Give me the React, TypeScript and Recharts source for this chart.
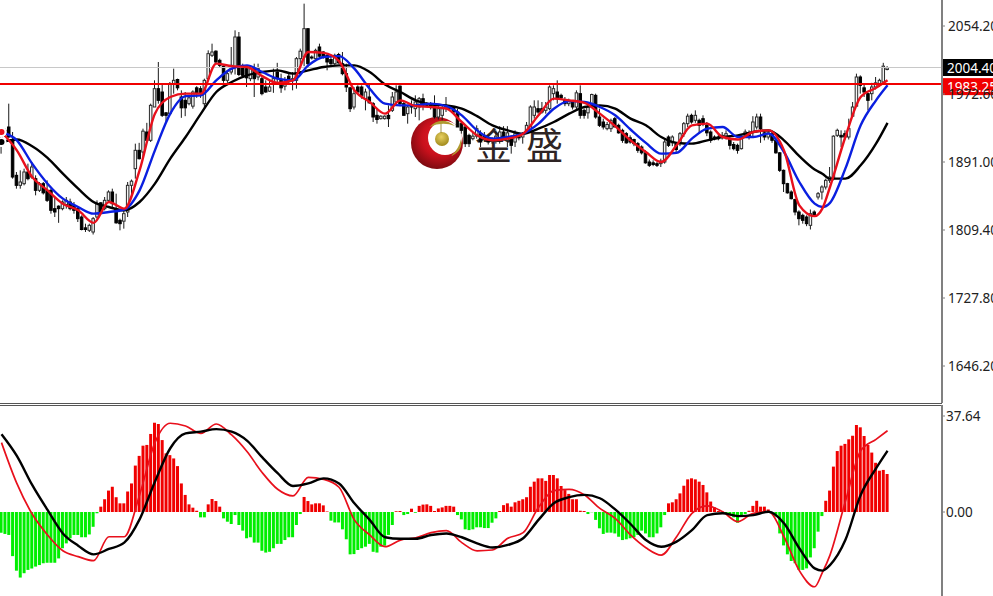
import { Bar, Cell, ComposedChart, Line, ReferenceLine, XAxis, YAxis } from "recharts";

const highs = [
  1927, 1931, 1961, 1927, 1879, 1881, 1883, 1889, 1891, 1875, 1867, 1867, 1869, 1859, 1849, 1839, 1845, 1849, 1847, 1843,
  1837, 1827, 1817, 1817, 1825, 1845, 1843, 1849, 1857, 1859, 1853, 1823, 1833, 1867, 1870, 1913, 1914, 1931, 1938, 1961,
  1989, 2011, 1985, 1951, 1987, 2003, 1991, 1977, 1975, 1971, 1977, 1982, 1982, 1991, 2025, 2033, 2025, 2015, 2007, 2001,
  2029, 2049, 2047, 2009, 2007, 2007, 2009, 2009, 1993, 1989, 1989, 2003, 2010, 1997, 1993, 1997, 1999, 2017, 2027, 2081,
  2051, 2019, 2027, 2033, 2024, 2021, 2017, 2021, 2022, 2023, 2009, 1981, 1981, 1983, 1983, 1979, 1985, 1963, 1955, 1947,
  1947, 1959, 1975, 1983, 1983, 1963, 1959, 1965, 1971, 1969, 1973, 1963, 1963, 1971, 1959, 1959, 1969, 1959, 1958, 1955,
  1939, 1935, 1925, 1927, 1935, 1929, 1927, 1923, 1921, 1929, 1934, 1934, 1934, 1923, 1929, 1925, 1927, 1939, 1959, 1965,
  1965, 1963, 1963, 1983, 1983, 1989, 1973, 1969, 1967, 1965, 1977, 1983, 1955, 1961, 1973, 1973, 1955, 1943, 1939, 1943,
  1945, 1937, 1931, 1927, 1923, 1919, 1915, 1911, 1905, 1894, 1893, 1891, 1895, 1919, 1923, 1923, 1915, 1927, 1939, 1949,
  1949, 1953, 1943, 1947, 1939, 1929, 1923, 1925, 1927, 1929, 1921, 1915, 1913, 1923, 1930, 1929, 1946, 1949, 1949, 1929,
  1929, 1927, 1918, 1903, 1882, 1866, 1857, 1847, 1833, 1829, 1827, 1834, 1833, 1855, 1863, 1871, 1885, 1923, 1931, 1929,
  1929, 1943, 1963, 1997, 1995, 1985, 1974, 1986, 1993, 1991, 2010, 2006,
];
const lows = [
  1901, 1921, 1920, 1871, 1859, 1859, 1863, 1869, 1871, 1851, 1855, 1852, 1843, 1829, 1825, 1818, 1833, 1835, 1833, 1829,
  1819, 1809, 1807, 1807, 1804, 1823, 1829, 1833, 1843, 1837, 1817, 1809, 1811, 1825, 1849, 1871, 1894, 1897, 1915, 1915,
  1957, 1961, 1945, 1939, 1948, 1973, 1977, 1944, 1946, 1959, 1955, 1968, 1968, 1956, 1988, 2017, 2009, 2005, 1986, 1986,
  1996, 1996, 1994, 1992, 1981, 1988, 1969, 1989, 1971, 1974, 1975, 1974, 1985, 1974, 1977, 1985, 1977, 1979, 2007, 2006,
  2005, 2014, 2014, 2016, 2015, 2001, 2007, 2007, 2009, 1995, 1975, 1951, 1954, 1973, 1967, 1953, 1961, 1939, 1937, 1942,
  1942, 1933, 1951, 1961, 1958, 1947, 1937, 1949, 1945, 1941, 1953, 1958, 1954, 1943, 1942, 1941, 1951, 1954, 1949, 1933,
  1925, 1909, 1909, 1917, 1919, 1909, 1917, 1912, 1913, 1913, 1913, 1917, 1909, 1901, 1909, 1917, 1913, 1927, 1926, 1943,
  1949, 1949, 1949, 1953, 1965, 1961, 1966, 1958, 1958, 1954, 1954, 1943, 1943, 1943, 1957, 1943, 1933, 1930, 1929, 1927,
  1933, 1925, 1914, 1913, 1913, 1910, 1902, 1900, 1889, 1885, 1886, 1885, 1885, 1889, 1909, 1910, 1902, 1910, 1921, 1933,
  1937, 1938, 1926, 1934, 1922, 1914, 1917, 1917, 1918, 1918, 1906, 1905, 1901, 1906, 1921, 1918, 1921, 1930, 1914, 1917,
  1918, 1914, 1901, 1879, 1855, 1853, 1846, 1827, 1815, 1817, 1814, 1810, 1826, 1846, 1846, 1858, 1866, 1869, 1921, 1909,
  1918, 1918, 1945, 1957, 1973, 1969, 1953, 1965, 1978, 1981, 1985, 2001,
];
const opens = [
  1927, 1923, 1933, 1917, 1875, 1863, 1865, 1879, 1873, 1871, 1857, 1865, 1857, 1857, 1835, 1838, 1835, 1840, 1843, 1839,
  1835, 1825, 1812, 1809, 1807, 1825, 1842, 1835, 1845, 1855, 1835, 1821, 1820, 1831, 1863, 1883, 1905, 1903, 1927, 1917,
  1957, 1979, 1975, 1950, 1949, 1985, 1990, 1969, 1965, 1961, 1958, 1980, 1979, 1961, 1991, 2019, 2024, 2013, 2006, 1989,
  1999, 2005, 2041, 2005, 2003, 1991, 2003, 1993, 1991, 1981, 1976, 1987, 1999, 1989, 1982, 1994, 1989, 1989, 2015, 2017,
  2051, 2017, 2015, 2029, 2023, 2019, 2014, 2009, 2020, 2009, 1997, 1980, 1957, 1981, 1981, 1967, 1969, 1961, 1947, 1943,
  1943, 1947, 1953, 1963, 1982, 1961, 1949, 1959, 1955, 1957, 1967, 1961, 1961, 1957, 1945, 1947, 1956, 1957, 1957, 1951,
  1937, 1933, 1923, 1919, 1922, 1925, 1923, 1919, 1916, 1916, 1917, 1927, 1917, 1919, 1915, 1923, 1921, 1929, 1929, 1947,
  1955, 1955, 1953, 1955, 1973, 1975, 1971, 1966, 1961, 1963, 1957, 1973, 1953, 1950, 1959, 1971, 1945, 1939, 1931, 1931,
  1943, 1935, 1929, 1925, 1920, 1918, 1913, 1909, 1902, 1891, 1890, 1889, 1889, 1891, 1921, 1914, 1913, 1913, 1925, 1937,
  1947, 1941, 1941, 1943, 1935, 1927, 1921, 1921, 1921, 1921, 1919, 1912, 1911, 1907, 1923, 1926, 1927, 1933, 1945, 1926,
  1921, 1925, 1917, 1902, 1881, 1865, 1855, 1846, 1831, 1827, 1825, 1815, 1831, 1849, 1855, 1861, 1869, 1871, 1923, 1923,
  1925, 1921, 1946, 1958, 1993, 1980, 1973, 1973, 1981, 1983, 1987, 2002,
];
const closes = [
  1913, 1929, 1921, 1873, 1863, 1867, 1879, 1871, 1885, 1857, 1865, 1854, 1845, 1833, 1831, 1835, 1843, 1845, 1835, 1833,
  1823, 1810, 1810, 1815, 1823, 1841, 1831, 1845, 1855, 1841, 1818, 1817, 1829, 1863, 1868, 1905, 1895, 1928, 1917, 1959,
  1979, 1965, 1947, 1947, 1985, 1989, 1980, 1956, 1956, 1968, 1975, 1973, 1973, 1989, 2021, 2023, 2011, 2007, 1989, 1997,
  2007, 2041, 1996, 1995, 1992, 2003, 1991, 2003, 1973, 1975, 1981, 1991, 1991, 1980, 1987, 1989, 1991, 2015, 2024, 2051,
  2009, 2016, 2025, 2018, 2017, 2011, 2009, 2019, 2010, 1997, 1981, 1955, 1973, 1975, 1971, 1975, 1962, 1945, 1942, 1946,
  1946, 1943, 1969, 1975, 1961, 1947, 1957, 1957, 1963, 1967, 1959, 1959, 1957, 1945, 1955, 1955, 1958, 1955, 1951, 1933,
  1929, 1913, 1913, 1922, 1931, 1915, 1918, 1915, 1919, 1922, 1927, 1921, 1926, 1911, 1925, 1920, 1924, 1935, 1957, 1957,
  1951, 1951, 1957, 1981, 1979, 1967, 1968, 1961, 1965, 1957, 1974, 1947, 1947, 1957, 1972, 1945, 1935, 1933, 1936, 1941,
  1933, 1926, 1917, 1914, 1915, 1913, 1905, 1902, 1890, 1887, 1888, 1887, 1892, 1915, 1911, 1921, 1906, 1925, 1937, 1946,
  1939, 1947, 1935, 1937, 1926, 1917, 1919, 1919, 1923, 1925, 1911, 1907, 1905, 1922, 1927, 1922, 1939, 1945, 1931, 1921,
  1926, 1917, 1902, 1881, 1865, 1854, 1847, 1831, 1823, 1821, 1817, 1829, 1828, 1853, 1861, 1869, 1873, 1922, 1929, 1921,
  1921, 1931, 1957, 1993, 1983, 1975, 1965, 1981, 1986, 1989, 2006, 2004,
];

// moving averages and MACD lines
const lineBars = [
  0, 4, 8, 12, 16, 20, 24, 28, 32, 36, 40, 44, 48, 52, 56, 60, 64, 68, 72, 76, 80, 84, 88, 92, 96, 100, 104, 108, 112,
  116, 120, 124, 128, 132, 136, 140, 144, 148, 152, 156, 160, 164, 168, 172, 176, 180, 184, 188, 192, 196, 200, 204,
  208, 212, 214, 216, 220, 224, 228, 231,
];
const fastMa = [
  1927, 1905, 1873, 1857, 1841, 1833, 1818, 1843, 1835, 1881, 1949, 1969, 1973, 1973, 2009, 2006, 2005, 1994, 1986, 1989,
  2023, 2022, 2012, 1977, 1963, 1949, 1965, 1958, 1957, 1955, 1939, 1923, 1917, 1919, 1925, 1947, 1967, 1965, 1962, 1949,
  1934, 1917, 1903, 1891, 1911, 1935, 1937, 1921, 1918, 1927, 1929, 1905, 1839, 1826, 1835, 1861, 1921, 1969, 1980, 1989,
];
const midMa = [
  1927, 1917, 1889, 1865, 1847, 1837, 1829, 1831, 1834, 1857, 1905, 1949, 1970, 1971, 1989, 2003, 2007, 1999, 1991, 1989,
  2007, 2017, 2018, 2003, 1979, 1961, 1959, 1959, 1961, 1958, 1947, 1929, 1919, 1921, 1925, 1937, 1955, 1964, 1963, 1957,
  1947, 1930, 1914, 1901, 1902, 1919, 1931, 1933, 1921, 1921, 1925, 1903, 1867, 1841, 1837, 1842, 1883, 1935, 1965, 1983,
];
const slowMa = [
  1915, 1918, 1910, 1896, 1877, 1859, 1843, 1837, 1833, 1843, 1865, 1895, 1921, 1949, 1975, 1987, 1995, 1999, 2001, 1997,
  2001, 2005, 2007, 2007, 1999, 1984, 1975, 1965, 1960, 1959, 1955, 1946, 1935, 1929, 1925, 1931, 1939, 1949, 1957, 1959,
  1955, 1943, 1935, 1921, 1914, 1913, 1917, 1921, 1923, 1927, 1929, 1917, 1898, 1882, 1877, 1871, 1871, 1887, 1913, 1938,
];
const macdFast = [
  27.2, 11.2, -0.8, -9.0, -15.2, -17.5, -19.1, -9.7, -9.7, 6.7, 27.2, 34.8, 33.7, 30.8, 34.5, 30.2, 23.7, 15.4, 8.9, 6.3,
  13.6, 12.8, 9.7, -3.1, -9.0, -13.6, -11.0, -10.1, -8.1, -7.3, -12.0, -15.2, -14.9, -10.3, -8.1, 1.8, 8.4, 8.9, 6.7, 1.4,
  -2.5, -9.0, -14.0, -16.9, -9.7, -0.5, 2.4, 0.1, -3.8, -0.5, 0.1, -9.7, -23.0, -29.3, -23.8, -16.9, 4.1, 24.0, 28.5, 31.9,
];
const macdSlow = [
  30.5, 22.0, 10.6, 0.8, -8.4, -13.2, -16.6, -14.5, -12.0, -2.9, 11.9, 25.0, 30.8, 31.5, 32.5, 31.5, 28.0, 21.4, 15.2, 10.2,
  11.2, 13.2, 11.2, 3.4, -3.1, -9.9, -10.5, -10.5, -9.0, -8.4, -9.9, -12.3, -13.9, -12.9, -10.3, -3.1, 3.4, 5.8, 6.7, 5.4,
  1.0, -4.7, -11.0, -13.6, -11.6, -7.1, -1.2, -0.5, -1.6, -1.2, 0.1, -4.4, -14.2, -22.1, -23.0, -20.8, -11.0, 6.7, 17.1, 24.0,
];
const histogram = [
  -8.1, -8.6, -9.0, -17.3, -23.0, -25.7, -24.0, -22.7, -22.1, -21.4, -20.8, -20.1, -19.9, -19.9, -19.9, -18.2, -14.2,
  -12.3, -10.3, -9.0, -9.0, -9.9, -9.9, -8.8, -5.8, -0.5, 2.1, 5.0, 8.4, 9.9, 5.8, 3.4, 3.4, 8.0, 11.2, 18.2, 22.0, 26.0,
  26.3, 30.6, 35.0, 34.5, 28.2, 23.0, 22.3, 21.0, 18.0, 11.2, 6.7, 3.0, 1.7, 0.5, -2.1, -2.1, 3.0, 5.1, 4.3, 2.1, -2.5,
  -3.8, -4.7, -1.2, -5.1, -7.3, -10.3, -9.9, -12.0, -12.0, -15.2, -15.9, -15.6, -14.2, -12.5, -12.5, -11.0, -9.9, -9.9,
  -5.1, -0.8, 5.9, 4.3, 3.0, 3.4, 3.4, 2.6, 0.2, -3.4, -4.1, -4.1, -6.8, -10.7, -16.6, -16.5, -14.9, -14.2, -13.6, -12.5,
  -15.6, -15.9, -13.6, -13.2, -9.0, -5.1, 0.3, 0.4, -1.2, -0.8, 1.3, -0.3, 2.4, 2.9, 3.0, 2.4, 0.4, 1.4, 1.8, 2.4, 2.4,
  2.1, -1.2, -2.9, -6.8, -7.1, -6.8, -6.0, -6.0, -6.3, -6.3, -4.2, -2.5, 0.4, 2.7, 3.4, 2.1, 3.8, 4.4, 5.0, 5.8, 9.9,
  11.9, 13.2, 13.2, 12.2, 14.5, 14.5, 13.2, 10.2, 8.6, 7.1, 5.0, 5.0, 0.5, 0.4, -0.8, -0.1, -3.1, -6.4, -8.6, -8.1, -8.1,
  -8.4, -9.7, -11.0, -10.7, -10.3, -9.9, -9.0, -7.3, -8.4, -9.9, -9.9, -8.4, -6.0, -1.2, 3.4, 3.8, 5.0, 7.3, 10.3, 12.8,
  13.2, 12.8, 11.9, 10.6, 7.7, 4.1, 1.8, 0.4, 0.2, -0.5, -1.2, -2.1, -4.2, -1.8, -0.8, 0.5, 2.4, 4.4, 2.1, 2.1, 1.0, -0.3,
  -1.8, -8.4, -13.1, -16.6, -19.2, -20.1, -22.7, -22.7, -22.1, -17.8, -14.2, -7.7, -1.6, 4.4, 8.4, 17.8, 23.9, 26.0, 26.7,
  28.5, 29.9, 34.1, 33.2, 29.8, 26.3, 23.3, 19.3, 16.2, 16.5, 14.9,
];

const priceTicks = [2054.2, 1972.6, 1891.0, 1809.4, 1727.8, 1646.2];
const macdTicks = [37.64, 0];
const bidPrice = 2004.4;
const askPrice = 1983.25;
const drawnLevel = 1984.6;

const rows = highs.map((high, i) => {
  const at = lineBars.indexOf(i);
  return {
    i,
    range: [lows[i], high],
    high,
    low: lows[i],
    open: opens[i],
    close: closes[i],
    hist: histogram[i],
    fast: at < 0 ? undefined : fastMa[at],
    mid: at < 0 ? undefined : midMa[at],
    slow: at < 0 ? undefined : slowMa[at],
    macdFast: at < 0 ? undefined : macdFast[at],
    macdSlow: at < 0 ? undefined : macdSlow[at],
  };
});

const FONT = '"Noto Sans", sans-serif';
const xDomain = [-0.39, 245.2];

const Candle = (props: any) => {
  const { x, y, width, height, payload } = props;
  const perUnit = height / (payload.high - payload.low || 1);
  const up = payload.close >= payload.open;
  const top = y + (payload.high - Math.max(payload.open, payload.close)) * perUnit;
  const bodyH = Math.max(Math.abs(payload.close - payload.open) * perUnit, 1);
  const cx = x + width / 2;
  return (
    <g>
      <line x1={cx} x2={cx} y1={y} y2={y + height} stroke="#1a1a1a" strokeWidth={1} />
      <rect
        x={x + 0.25}
        y={top}
        width={width - 0.5}
        height={bodyH}
        fill={up ? "#f4f4f4" : "#000"}
        stroke={up ? "#2a2a2a" : "#000"}
        strokeWidth={1}
      />
    </g>
  );
};

const PriceTag = (props: any) => {
  const { viewBox, value, fill, rise, baseline } = props;
  return (
    <g>
      <rect x={viewBox.x + viewBox.width + 1} y={viewBox.y - rise} width={51} height={17} fill={fill} />
      <text x={viewBox.x + viewBox.width + 5} y={viewBox.y + baseline} fill="#fff" fontSize={13.5} fontFamily={FONT}>
        {value}
      </text>
    </g>
  );
};

const Logo = () => (
  <svg width={70} height={70} style={{ position: "absolute", left: 402, top: 108 }} viewBox="402 108 70 70">
    <defs>
      <radialGradient id="ballRed" cx="55%" cy="40%" r="62%">
        <stop offset="0%" stopColor="#e8202a" />
        <stop offset="55%" stopColor="#c8101c" />
        <stop offset="100%" stopColor="#7a0a10" />
      </radialGradient>
      <radialGradient id="ballGold" cx="45%" cy="35%" r="65%">
        <stop offset="0%" stopColor="#e8d060" />
        <stop offset="100%" stopColor="#a08a1c" />
      </radialGradient>
    </defs>
    <circle cx={437} cy={143} r={26} fill="url(#ballRed)" />
    <circle cx={445} cy={138} r={17} fill="#fff" />
    <circle cx={442} cy={139} r={7} fill="url(#ballGold)" />
    <path d="M429.500 127 Q441 115 455 126 Q442 121 429.500 127 Z" fill="#b09a30" />
    <path d="M441 124 L441 133" stroke="#8a7a20" strokeWidth={0.8} />
    <path d="M461 139 Q463.500 151 451 156 Q459 149 461 139 Z" fill="#b09a30" />
  </svg>
);

const brandStyle = {
  position: "absolute",
  top: 121,
  fontFamily: '"Noto Sans CJK SC", sans-serif',
  fontSize: 37,
  lineHeight: "46px",
  color: "#2e2424",
} as const;

export default function App() {
  return (
    <div style={{ position: "absolute", left: 0, top: 0, width: 993, height: 596, overflow: "hidden", background: "#fff" }}>
      <Logo />
      <span style={{ ...brandStyle, left: 475 }}>金</span>
      <span style={{ ...brandStyle, left: 526 }}>盛</span>

      <div style={{ position: "absolute", left: 0, top: 0 }}>
        <ComposedChart width={993} height={403} data={rows} margin={{ top: 0, right: 0, bottom: 0, left: 0 }}>
          <XAxis type="number" dataKey="i" domain={xDomain} hide allowDataOverflow />
          <YAxis
            orientation="right"
            width={51}
            domain={[1601.8, 2085.4]}
            ticks={priceTicks}
            interval={0}
            allowDataOverflow
            tickFormatter={(v: number) => v.toFixed(2)}
            tick={{ fontSize: 13.5, fill: "#222", fontFamily: FONT }}
            tickSize={3}
            tickMargin={3}
            axisLine={{ stroke: "#808080", strokeWidth: 2 }}
            tickLine={{ stroke: "#808080" }}
          />
          <ReferenceLine y={bidPrice} stroke="#c8c8c8" strokeWidth={1} label={<PriceTag value="2004.40" fill="#000" rise={8.5} baseline={5} />} />
          <Bar dataKey="range" barSize={3} shape={<Candle />} isAnimationActive={false} />
          <Line dataKey="slow" stroke="#000" strokeWidth={2.4} dot={false} type="monotone" connectNulls isAnimationActive={false} />
          <Line dataKey="mid" stroke="#0a1fe0" strokeWidth={2.4} dot={false} type="monotone" connectNulls isAnimationActive={false} />
          <Line dataKey="fast" stroke="#e8101c" strokeWidth={2.4} dot={false} type="monotone" connectNulls isAnimationActive={false} />
          <ReferenceLine y={drawnLevel} stroke="#f00000" strokeWidth={2} />
          <ReferenceLine y={askPrice} stroke="none" label={<PriceTag value="1983.25" fill="#f00000" rise={7} baseline={7} />} />
        </ComposedChart>
      </div>

      <div style={{ position: "absolute", left: 0, top: 403, width: 942, height: 1, background: "#555" }} />
      <div style={{ position: "absolute", left: 0, top: 405, width: 942, height: 1, background: "#555" }} />

      <div style={{ position: "absolute", left: 0, top: 405 }}>
        <ComposedChart width={993} height={191} data={rows} margin={{ top: 0, right: 0, bottom: 0, left: 0 }}>
          <XAxis type="number" dataKey="i" domain={xDomain} hide allowDataOverflow />
          <YAxis
            orientation="right"
            width={51}
            domain={[-32.93, 41.95]}
            ticks={macdTicks}
            interval={0}
            allowDataOverflow
            tickFormatter={(v: number) => v.toFixed(2)}
            tick={{ fontSize: 13.5, fill: "#222", fontFamily: FONT }}
            tickSize={3}
            tickMargin={1}
            axisLine={{ stroke: "#808080", strokeWidth: 2 }}
            tickLine={{ stroke: "#808080" }}
          />
          <Bar dataKey="hist" barSize={3} isAnimationActive={false}>
            {histogram.map((v, i) => (
              <Cell key={i} fill={v >= 0 ? "#f00000" : "#00ee00"} />
            ))}
          </Bar>
          <Line dataKey="macdFast" stroke="#e8101c" strokeWidth={1.7} dot={false} type="monotone" connectNulls isAnimationActive={false} />
          <Line dataKey="macdSlow" stroke="#000" strokeWidth={2.4} dot={false} type="monotone" connectNulls isAnimationActive={false} />
        </ComposedChart>
      </div>
    </div>
  );
}
